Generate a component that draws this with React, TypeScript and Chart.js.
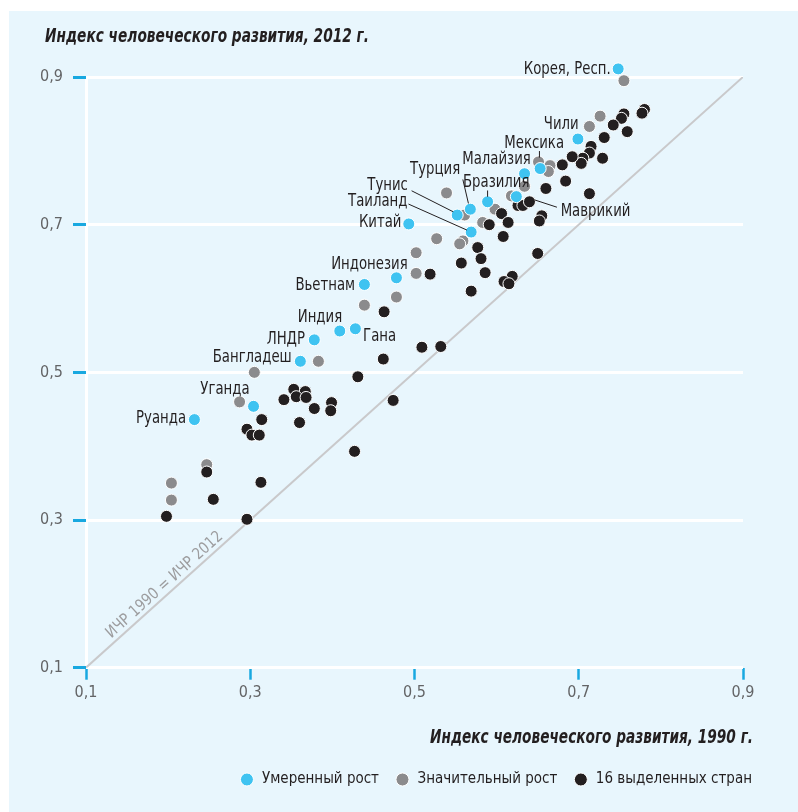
import { useEffect, useRef } from 'react';
import { Chart, registerables } from 'chart.js';

Chart.register(...registerables);

// ---------- data ----------
const seriesLabels = ['Умеренный рост', 'Значительный рост', '16 выделенных стран'];
const axisTitleY = 'Индекс человеческого развития, 2012 г.';
const axisTitleX = 'Индекс человеческого развития, 1990 г.';
const diagonalLabel = 'ИЧР 1990 = ИЧР 2012';
const tickValues = [0.1, 0.3, 0.5, 0.7, 0.9];

const moderateNames = ['Корея, Респ.', 'Чили', 'Мексика', 'Малайзия', 'Маврикий', 'Бразилия', 'Турция', 'Тунис', 'Таиланд', 'Китай', 'Индонезия', 'Вьетнам', 'Индия', 'Гана', 'ЛНДР', 'Бангладеш', 'Уганда', 'Руанда'];
const moderateX = [0.748, 0.699, 0.653, 0.634, 0.624, 0.589, 0.568, 0.552, 0.569, 0.493, 0.478, 0.439, 0.409, 0.428, 0.378, 0.361, 0.304, 0.232];
const moderateY = [0.911, 0.816, 0.776, 0.769, 0.738, 0.731, 0.721, 0.713, 0.690, 0.701, 0.628, 0.619, 0.556, 0.559, 0.544, 0.515, 0.454, 0.436];

const significantX = [0.755, 0.726, 0.713, 0.651, 0.665, 0.663, 0.634, 0.618, 0.539, 0.561, 0.598, 0.583, 0.559, 0.555, 0.527, 0.502, 0.502, 0.478, 0.439, 0.383, 0.305, 0.287, 0.247, 0.204, 0.204];
const significantY = [0.895, 0.847, 0.833, 0.785, 0.780, 0.772, 0.752, 0.739, 0.743, 0.713, 0.721, 0.703, 0.678, 0.674, 0.681, 0.662, 0.634, 0.602, 0.591, 0.515, 0.500, 0.460, 0.375, 0.350, 0.327];

const highlightedX = [0.780, 0.777, 0.755, 0.752, 0.742, 0.759, 0.731, 0.715, 0.713, 0.729, 0.705, 0.703, 0.692, 0.680, 0.684, 0.660, 0.713, 0.626, 0.632, 0.640, 0.655, 0.652, 0.606, 0.614, 0.591, 0.608, 0.577, 0.581, 0.557, 0.586, 0.619, 0.609, 0.615, 0.569, 0.650, 0.519, 0.463, 0.509, 0.532, 0.462, 0.431, 0.474, 0.427, 0.353, 0.367, 0.356, 0.368, 0.341, 0.378, 0.399, 0.398, 0.360, 0.314, 0.296, 0.302, 0.311, 0.247, 0.313, 0.255, 0.198, 0.296];
const highlightedY = [0.856, 0.851, 0.850, 0.844, 0.835, 0.826, 0.818, 0.806, 0.797, 0.790, 0.790, 0.783, 0.792, 0.781, 0.759, 0.749, 0.742, 0.726, 0.726, 0.731, 0.712, 0.705, 0.715, 0.703, 0.700, 0.684, 0.669, 0.654, 0.648, 0.635, 0.630, 0.623, 0.620, 0.610, 0.661, 0.633, 0.582, 0.534, 0.535, 0.518, 0.494, 0.462, 0.393, 0.477, 0.474, 0.467, 0.466, 0.463, 0.451, 0.459, 0.448, 0.432, 0.436, 0.423, 0.415, 0.415, 0.365, 0.351, 0.328, 0.305, 0.301];

const diagonalEnds = [0.1, 0.9];

// ---------- layout / style (not data) ----------
type Lay = { dx: number; dy: number; align: CanvasTextAlign; line?: [number, number, number, number] };
const LABEL_LAYOUT: Record<string, Lay> = {
  'Корея, Респ.': { dx: -7.5, dy: 0.5, align: 'right' },
  'Чили': { dx: 0.7, dy: -14.3, align: 'right' },
  'Мексика': { dx: -6, dy: -25.6, align: 'center', line: [-0.7, -17.5, -0.7, -11] },
  'Малайзия': { dx: 6.2, dy: -14.8, align: 'right' },
  'Маврикий': { dx: 44.3, dy: 15, align: 'left', line: [18.3, 3.3, 40.6, 10.6] },
  'Бразилия': { dx: -24.6, dy: -19.6, align: 'left', line: [0, -11.3, 0, -5] },
  'Турция': { dx: -10.2, dy: -39.7, align: 'right', line: [-7.5, -29.7, -1.9, -5.7] },
  'Тунис': { dx: -49.3, dy: -30, align: 'right', line: [-45.6, -24.3, -4, -3.3] },
  'Таиланд': { dx: -63.7, dy: -30.3, align: 'right', line: [-62.7, -28, -4.3, -2] },
  'Китай': { dx: -7.3, dy: -1.7, align: 'right' },
  'Индонезия': { dx: 11.2, dy: -13.9, align: 'right' },
  'Вьетнам': { dx: -9.3, dy: 0.7, align: 'right' },
  'Индия': { dx: 2.4, dy: -13.4, align: 'right' },
  'Гана': { dx: 7.7, dy: 7.4, align: 'left' },
  'ЛНДР': { dx: -9.3, dy: -0.3, align: 'right' },
  'Бангладеш': { dx: -8.6, dy: -4.3, align: 'right' },
  'Уганда': { dx: -4, dy: -17.4, align: 'right' },
  'Руанда': { dx: -8.3, dy: -1, align: 'right' },
};

const FONT = "'Liberation Sans Narrow', 'DejaVu Sans Condensed', 'Roboto Condensed', 'Open Sans', sans-serif";
const PANEL = '#e8f6fd';
const BLUE = '#3fc3f1';
const GRAY = '#8b8b8d';
const BLACK = '#231f20';
const TICK_BLUE = '#18a8e0';
const TEXT_DARK = '#231f20';

const fmt = (v: number) => v.toFixed(1).replace('.', ',');
const pts = (xs: number[], ys: number[]) => xs.map((x, i) => ({ x, y: ys[i] }));

function drawScaled(ctx: CanvasRenderingContext2D, text: string, x: number, y: number, align: CanvasTextAlign, sx: number) {
  ctx.save();
  ctx.translate(x, y);
  ctx.scale(sx, 1);
  ctx.textAlign = align;
  ctx.fillText(text, 0, 0);
  ctx.restore();
}

const annotationPlugin = {
  id: 'annotations',
  afterDatasetsDraw(chart: any) {
    const ctx: CanvasRenderingContext2D = chart.ctx;
    const xs = chart.scales.x;
    const ys = chart.scales.y;

    // diagonal label
    ctx.save();
    const p1x = xs.getPixelForValue(diagonalEnds[0]);
    const p1y = ys.getPixelForValue(diagonalEnds[0]);
    const p2x = xs.getPixelForValue(diagonalEnds[1]);
    const p2y = ys.getPixelForValue(diagonalEnds[1]);
    const a = Math.atan2(p2y - p1y, p2x - p1x);
    const fx = xs.getPixelForValue(0.203);
    const fy = ys.getPixelForValue(0.203);
    const off = 9;
    ctx.translate(fx + Math.sin(a) * off, fy - Math.cos(a) * off);
    ctx.rotate(a);
    ctx.font = `16px ${FONT}`;
    ctx.fillStyle = '#9d9d9f';
    ctx.textBaseline = 'middle';
    const dw = ctx.measureText(diagonalLabel).width;
    drawScaled(ctx, diagonalLabel, 0, 0, 'center', Math.min(1, 151 / dw));
    ctx.restore();

    ctx.save();
    // country labels
    ctx.font = `18px ${FONT}`;
    ctx.fillStyle = TEXT_DARK;
    ctx.strokeStyle = TEXT_DARK;
    ctx.lineWidth = 1;
    ctx.textBaseline = 'middle';
    moderateNames.forEach((name, i) => {
      const lay = LABEL_LAYOUT[name];
      if (!lay) return;
      const px = xs.getPixelForValue(moderateX[i]);
      const py = ys.getPixelForValue(moderateY[i]);
      if (lay.line) {
        ctx.beginPath();
        ctx.moveTo(px + lay.line[0], py + lay.line[1]);
        ctx.lineTo(px + lay.line[2], py + lay.line[3]);
        ctx.stroke();
      }
      drawScaled(ctx, name, px + lay.dx, py + lay.dy, lay.align, 0.82);
    });

    // axis titles
    ctx.font = `italic bold 19px ${FONT}`;
    ctx.textBaseline = 'alphabetic';
    const wY = ctx.measureText(axisTitleY).width;
    drawScaled(ctx, axisTitleY, 45, 41.7, 'left', 324 / wY);
    const wX = ctx.measureText(axisTitleX).width;
    drawScaled(ctx, axisTitleX, 753, 742.5, 'right', 323 / wX);
    ctx.restore();
  },
};

export default function App() {
  const ref = useRef<HTMLCanvasElement>(null);

  useEffect(() => {
    const canvas = ref.current;
    if (!canvas) return;
    const setTicks = (s: any) => {
      s.ticks = tickValues.map((v) => ({ value: v }));
    };
    const tickFont = { family: FONT, size: 16 };
    const pointStyle = {
      borderColor: '#ffffff',
      borderWidth: 1,
      pointRadius: 6,
      hoverRadius: 10,
      pointHoverRadius: 10,
      clip: false,
    };
    const chart = new Chart(canvas, {
      type: 'scatter',
      data: {
        datasets: [
          { label: seriesLabels[0], data: pts(moderateX, moderateY), backgroundColor: BLUE, order: 1, ...pointStyle },
          { label: seriesLabels[1], data: pts(significantX, significantY), backgroundColor: GRAY, order: 3, ...pointStyle },
          { label: seriesLabels[2], data: pts(highlightedX, highlightedY), backgroundColor: BLACK, order: 2, ...pointStyle },
          {
            type: 'line' as any,
            label: diagonalLabel,
            data: pts(diagonalEnds, diagonalEnds),
            borderColor: '#c9c9cb',
            borderWidth: 2,
            pointRadius: 0,
            showLine: true,
            order: 10,
          } as any,
        ],
      },
      options: {
        responsive: false,
        animation: false,
        events: [],
        layout: { padding: { top: 77, right: 30, left: 0, bottom: 15 } },
        scales: {
          x: {
            type: 'linear',
            min: 0.1,
            max: 0.9,
            afterBuildTicks: setTicks,
            afterFit: (s: any) => {
              s.height = 88.3;
            },
            border: { display: false },
            grid: {
              color: (c: any) => (c.tick && Math.abs(c.tick.value - 0.1) < 1e-6 ? '#ffffff' : 'rgba(0,0,0,0)'),
              lineWidth: 3,
              tickColor: TICK_BLUE,
              tickLength: 12,
              tickWidth: 2.5,
            },
            ticks: {
              padding: 4,
              color: '#636466',
              font: tickFont,
              maxRotation: 0,
              callback: (v: any) => fmt(Number(v)),
            },
          },
          y: {
            type: 'linear',
            min: 0.1,
            max: 0.9,
            afterBuildTicks: setTicks,
            afterFit: (s: any) => {
              s.width = 86;
            },
            border: { display: false },
            grid: {
              color: '#ffffff',
              lineWidth: 3,
              tickColor: TICK_BLUE,
              tickLength: 13,
              tickWidth: 3,
            },
            ticks: {
              padding: 10,
              color: '#636466',
              font: tickFont,
              callback: (v: any) => fmt(Number(v)),
            },
          },
          yRight: {
            type: 'linear',
            position: 'right',
            display: true,
            border: { display: false },
            grid: { display: false },
            ticks: { display: false },
            afterFit: (s: any) => {
              s.width = 25;
            },
          },
        },
        plugins: {
          tooltip: { enabled: false },
          title: { display: false },
          legend: {
            display: true,
            position: 'bottom',
            align: 'end',
            labels: {
              usePointStyle: true,
              pointStyle: 'circle',
              boxWidth: 24.5,
              boxHeight: 9.2,
              padding: 16,
              color: TEXT_DARK,
              font: { family: FONT, size: 15 },
              filter: (item: any) => item.datasetIndex < 3,
              sort: (a: any, b: any) => a.datasetIndex - b.datasetIndex,
            },
          },
        },
      },
      plugins: [annotationPlugin],
    } as any);
    return () => chart.destroy();
  }, []);

  return (
    <div style={{ position: 'fixed', left: 0, top: 0, width: 798, height: 812, background: '#ffffff', overflow: 'hidden' }}>
      <div style={{ position: 'absolute', left: 9, top: 11, right: 0, bottom: 0, background: PANEL }} />
      <canvas ref={ref} width={798} height={812} style={{ position: 'absolute', left: 0, top: 0, width: 798, height: 812 }} />
    </div>
  );
}
